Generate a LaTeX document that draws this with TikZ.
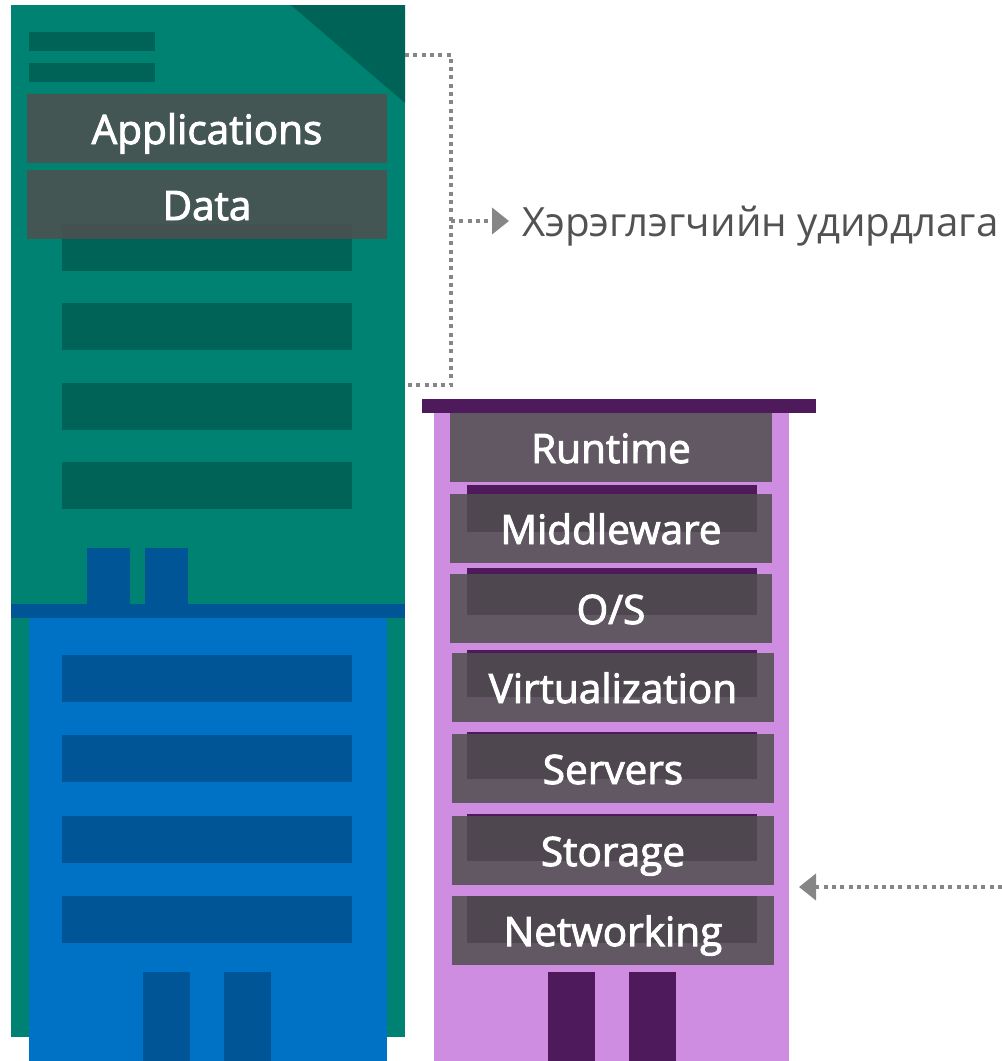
\documentclass[tikz,border=0pt]{standalone}
\usepackage{fontspec}
\setmainfont{Open Sans}
\newfontfamily\labelfont[RawFeature={embolden=2.4}]{Open Sans}
\usetikzlibrary{arrows.meta,
positioning}

\definecolor{greenbody}{HTML}{008272}
\definecolor{greendark}{HTML}{006357}
\definecolor{bluebody}{HTML}{0072C6}
\definecolor{bluedark}{HTML}{005596}
\definecolor{purplebody}{HTML}{CE8DE0}
\definecolor{purpledark}{HTML}{4E1A5B}
\definecolor{labelgrey}{HTML}{4F4F4F}
\definecolor{dotgrey}{HTML}{868686}

\begin{document}
\begin{tikzpicture} [x=1pt, y=-1pt,
    >=latex,
    block/.style={rectangle, anchor=north west, inner sep=0pt, outer sep=0pt},
    window/.style={block, minimum width=290pt, minimum height=47pt},
    door/.style={block, minimum width=47pt, minimum height=89pt},
    layer/.style={block, minimum width=322pt, minimum height=69pt,
        fill=labelgrey, fill opacity=.85, text opacity=1, text=white,
        text height=36pt, text depth=5pt,
        font={\labelfont\fontsize{40.5}{48}\selectfont}},
    dotted link/.style={draw=dotgrey, line width=4pt, dash pattern=on 4pt off 4.3pt},
    link head/.style={-{Triangle[width=26pt, length=17pt, fill=dotgrey, color=dotgrey]}}
  ]

  \useasboundingbox (0,0) rectangle (1002,1061);

  % left building, top half
  \node [block, fill=greenbody, minimum width=394pt, minimum height=1032pt] (greentower) at (11,5) {};
  \fill [greendark] (291,5) -- (405,5) -- (405,103) -- cycle;
  \node [block, fill=greendark, minimum width=126pt, minimum height=19pt] (sign0) at (29,32) {};
  \node [block, fill=greendark, minimum width=126pt, minimum height=19pt] (sign1) at (29,63) {};
  \node [window, fill=greendark] (gwin0) at (62,224) {};
  \node [window, fill=greendark] (gwin1) at (62,303) {};
  \node [window, fill=greendark] (gwin2) at (62,383) {};
  \node [window, fill=greendark] (gwin3) at (62,462) {};

  \node [layer, minimum width=360pt] (apps) at (27,94) {Applications};
  \node [layer, minimum width=360pt] (data) at (27,170) {Data};

  % left building, bottom half
  \node [block, fill=bluedark, minimum width=43pt, minimum height=56pt] (stack0) at (87,548) {};
  \node [block, fill=bluedark, minimum width=43pt, minimum height=56pt] (stack1) at (145,548) {};
  \node [block, fill=bluedark, minimum width=394pt, minimum height=14pt] (blueroof) at (11,604) {};
  \node [block, fill=bluebody, minimum width=358pt, minimum height=443pt] (bluetower) at (29,618) {};
  \node [window, fill=bluedark] (bwin0) at (62,655) {};
  \node [window, fill=bluedark] (bwin1) at (62,735) {};
  \node [window, fill=bluedark] (bwin2) at (62,816) {};
  \node [window, fill=bluedark] (bwin3) at (62,896) {};
  \node [door, fill=bluedark] (bdoor0) at (143,972) {};
  \node [door, fill=bluedark] (bdoor1) at (224,972) {};

  % right building
  \node [block, fill=purplebody, minimum width=355pt, minimum height=648pt] (purpletower) at (434,413) {};
  \node [block, fill=purpledark, minimum width=394pt, minimum height=14pt] (purpleroof) at (422,399) {};
  \node [window, fill=purpledark] (pwin0) at (467,485) {};
  \node [window, fill=purpledark] (pwin1) at (467,568) {};
  \node [window, fill=purpledark] (pwin2) at (467,650) {};
  \node [window, fill=purpledark] (pwin3) at (467,732) {};
  \node [window, fill=purpledark] (pwin4) at (467,814) {};
  \node [window, fill=purpledark] (pwin5) at (467,896) {};
  \node [door, fill=purpledark] (pdoor0) at (548,972) {};
  \node [door, fill=purpledark] (pdoor1) at (629,972) {};

  \node [layer] (runtime) at (450,413) {Runtime};
  \node [layer] (middleware) at (450,494) {Middleware};
  \node [layer] (os) at (450,574) {O/S};
  \node [layer] (virtual) at (452,653) {Virtualization};
  \node [layer] (servers) at (452,734) {Servers};
  \node [layer] (storage) at (452,816) {Storage};
  \node [layer] (network) at (452,896) {Networking};

  % dotted links
  \node [anchor=west, inner sep=0pt, text=black!68, font={\fontsize{40.3}{48}\selectfont}] (managed) at (522,226) {Хэрэглэгчийн удирдлага};

  \coordinate (bracket0) at (405,55);
  \coordinate (bracket1) at (405,385);
  \coordinate (bracketmid) at (451,221);
  \coordinate (vendor) at (1002,887);
  \coordinate (vendortip) at (799,887);

  \draw [dotted link] (bracket0) -| (bracketmid) |- (bracket1);
  \draw [dotted link, link head] (bracketmid) -- (bracketmid -| 509,0);
  \draw [dotted link, link head] (vendor) -- (vendortip);

\end{tikzpicture}
\end{document}
